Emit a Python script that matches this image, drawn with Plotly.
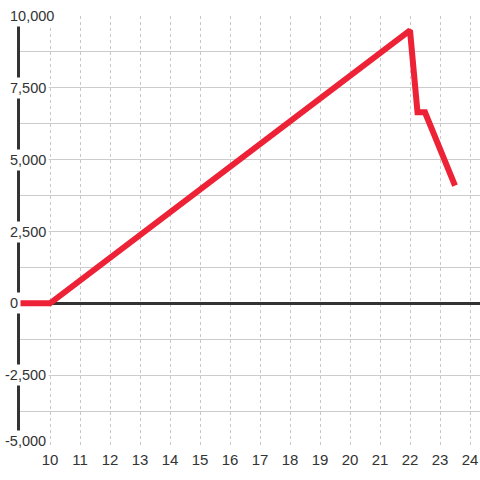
import plotly.graph_objects as go

x_vals = [9, 10, 22, 22.25, 22.5, 23.5]
y_vals = [0, 0, 9500, 6650, 6650, 4100]
x_ticks = [10, 11, 12, 13, 14, 15, 16, 17, 18, 19, 20, 21, 22, 23, 24]
y_label_vals = [10000, 7500, 5000, 2500, 0, -2500, -5000]
y_label_text = ["10,000", "7,500", "5,000", "2,500", "0", "-2,500", "-5,000"]

FONT = "Liberation Sans, Arial, sans-serif"
TXT = "#333333"

fig = go.Figure()
fig.add_trace(go.Scatter(x=x_vals, y=y_vals, mode="lines",
                         line=dict(color="#EE2236", width=6),
                         hoverinfo="skip", showlegend=False))

plot_w = 460.0
annotations = []
for v, t in zip(y_label_vals, y_label_text):
    left_px = 2 if v < 0 else 7
    annotations.append(dict(
        x=(left_px - 20) / plot_w, xref="paper", xanchor="left",
        y=v, yref="y", yanchor="middle",
        yshift=6 if v == min(y_label_vals) else 0,
        text=t, showarrow=False, bgcolor="white", borderpad=2,
        font=dict(family=FONT, size=14.5, color=TXT)))

fig.update_layout(
    width=480, height=480,
    margin=dict(l=20, r=0, t=16, b=33),
    paper_bgcolor="white", plot_bgcolor="white",
    annotations=annotations,
    xaxis=dict(range=[9, 9 + plot_w / 30.0], tickvals=x_ticks,
               showgrid=True, gridcolor="#c8c8c8", gridwidth=1, griddash="dot",
               zeroline=False, showline=False, ticks="", ticklabelstandoff=2,
               tickfont=dict(family=FONT, size=15, color=TXT),
               fixedrange=True),
    yaxis=dict(range=[-5000, 10000], tickvals=[-5000 + 1250 * i for i in range(13)],
               showticklabels=False, showgrid=True, gridcolor="#cccccc", gridwidth=1,
               zeroline=True, zerolinecolor="#333333", zerolinewidth=3,
               showline=True, linecolor="#333333", linewidth=3, layer="below traces",
               ticks="", fixedrange=True),
)

fig.write_html("out.html", config={"displayModeBar": False},
               post_script="document.body.style.margin='0';document.body.style.overflow='hidden';")
